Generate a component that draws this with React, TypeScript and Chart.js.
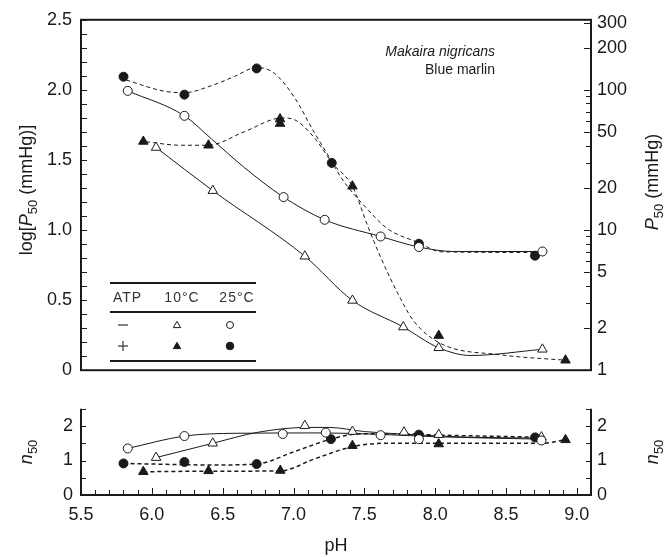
import React, { useEffect, useRef } from 'react';
import { Chart, registerables } from 'chart.js';
Chart.register(...registerables);

const FONT = '"Liberation Sans", Arial, Helvetica, sans-serif';
const INK = '#1a1a1a';

// ---------- axes / tick labels ----------
const PH_MIN = 5.5;
const PH_MAX = 9.1;
const pHLabels = ['5.5', '6.0', '6.5', '7.0', '7.5', '8.0', '8.5', '9.0'];
const logP50Labels = ['0', '0.5', '1.0', '1.5', '2.0', '2.5'];
const p50Major = [1, 2, 5, 10, 20, 50, 100, 200, 300];
const p50Minor = [3, 4, 6, 7, 8, 9, 30, 40, 60, 70, 80, 90];
const n50Labels = ['0', '1', '2'];

// ---------- top panel: log P50 (points) ----------
const pH_25_noATP = [5.83, 6.23, 6.93, 7.22, 7.615, 7.885, 8.757];
const logP50_25_noATP = [1.993, 1.815, 1.235, 1.073, 0.954, 0.879, 0.847];
const pH_25_ATP = [5.8, 6.23, 6.74, 7.27, 7.885, 8.705];
const logP50_25_ATP = [2.094, 1.966, 2.153, 1.479, 0.902, 0.817];
const pH_10_noATP = [6.03, 6.43, 7.08, 7.416, 7.775, 8.025, 8.757];
const logP50_10_noATP = [1.589, 1.281, 0.813, 0.498, 0.308, 0.16, 0.149];
const pH_10_ATP = [5.94, 6.4, 6.905, 6.905, 7.416, 8.025, 8.92];
const logP50_10_ATP = [1.632, 1.605, 1.792, 1.76, 1.313, 0.247, 0.071];

// ---------- top panel: fitted curves ----------
const fitPH_25_noATP = [5.83, 6.23, 6.42, 6.654, 6.93, 7.22, 7.615, 7.885, 8.13, 8.757];
const fitLog_25_noATP = [1.993, 1.815, 1.651, 1.445, 1.235, 1.073, 0.954, 0.879, 0.847, 0.847];
const fitPH_25_ATP = [5.82, 6.09, 6.23, 6.42, 6.584, 6.74, 6.865, 7.006, 7.146, 7.27, 7.334, 7.522, 7.662, 7.885, 8.04, 8.72];
const fitLog_25_ATP = [2.07, 1.99, 1.98, 2.03, 2.096, 2.16, 2.118, 1.947, 1.697, 1.49, 1.377, 1.149, 1.011, 0.909, 0.845, 0.84];
const fitPH_10_noATP = [6.03, 6.43, 7.08, 7.416, 7.775, 8.025, 8.25, 8.757];
const fitLog_10_noATP = [1.589, 1.281, 0.813, 0.498, 0.308, 0.16, 0.105, 0.149];
const fitPH_10_ATP = [5.96, 6.2, 6.4, 6.65, 6.92, 7.0, 7.146, 7.28, 7.416, 7.522, 7.615, 7.756, 7.85, 8.04, 8.46, 8.92];
const fitLog_10_ATP = [1.63, 1.605, 1.605, 1.7, 1.8, 1.79, 1.66, 1.47, 1.313, 1.034, 0.806, 0.509, 0.349, 0.19, 0.11, 0.071];

// ---------- bottom panel: n50 (points) ----------
const nPH_25_noATP = [5.83, 6.23, 6.924, 7.228, 7.615, 7.885, 8.75];
const n50_25_noATP = [1.35, 1.71, 1.77, 1.81, 1.735, 1.62, 1.58];
const nPH_25_ATP = [5.8, 6.23, 6.74, 7.264, 7.885, 8.705];
const n50_25_ATP = [0.915, 0.957, 0.897, 1.62, 1.75, 1.67];
const nPH_10_noATP = [6.03, 6.43, 7.08, 7.416, 7.78, 8.025, 8.75];
const n50_10_noATP = [1.085, 1.5, 2.01, 1.84, 1.82, 1.75, 1.68];
const nPH_10_ATP = [5.94, 6.4, 6.907, 7.416, 8.025, 8.92];
const n50_10_ATP = [0.675, 0.7, 0.71, 1.43, 1.48, 1.6];

// ---------- bottom panel: fitted curves ----------
const nFitPH_25_noATP = [5.83, 6.23, 6.6, 7.2, 7.6, 8.0, 8.75];
const nFit_25_noATP = [1.35, 1.71, 1.79, 1.8, 1.76, 1.69, 1.62];
const nFitPH_10_noATP = [6.03, 6.43, 6.75, 7.1, 7.25, 7.5, 7.8, 8.2, 8.75];
const nFit_10_noATP = [1.085, 1.5, 1.82, 1.96, 1.96, 1.84, 1.76, 1.68, 1.65];
const nFitPH_25_ATP = [5.8, 6.1, 6.4, 6.74, 7.0, 7.264, 7.45, 7.7, 8.0, 8.7];
const nFit_25_ATP = [0.915, 0.89, 0.87, 0.897, 1.25, 1.62, 1.77, 1.78, 1.74, 1.68];
const nFitPH_10_ATP = [5.94, 6.4, 6.907, 7.15, 7.416, 7.65, 8.0, 8.75, 8.92];
const nFit_10_ATP = [0.675, 0.69, 0.7, 1.05, 1.4, 1.5, 1.5, 1.5, 1.6];

// ---------- helpers ----------
const pts = (xs: number[], ys: number[]) => xs.map((x, i) => ({ x, y: ys[i] }));

function pointDs(xs: number[], ys: number[], style: string, filled: boolean) {
  return {
    data: pts(xs, ys),
    showLine: false,
    pointStyle: style,
    pointRadius: style === 'circle' ? 4.5 : 5.5,
    pointBackgroundColor: filled ? INK : '#ffffff',
    pointBorderColor: INK,
    pointBorderWidth: 1,
    order: 0,
  };
}

function curveDs(xs: number[], ys: number[], dashed: boolean, width = 1) {
  return {
    data: pts(xs, ys),
    showLine: true,
    pointRadius: 0,
    borderColor: INK,
    borderWidth: width,
    borderDash: dashed ? [4, 3] : [],
    cubicInterpolationMode: 'monotone',
    fill: false,
    order: 1,
  };
}

type Part = { t: string; it?: boolean; sub?: boolean };
function drawRich(ctx: CanvasRenderingContext2D, parts: Part[], cx: number, cy: number, size: number, rot: number) {
  ctx.save();
  ctx.translate(cx, cy);
  ctx.rotate(rot);
  const fontOf = (p: Part) => `${p.it ? 'italic ' : ''}${p.sub ? Math.round(size * 0.72) : size}px ${FONT}`;
  let total = 0;
  const widths = parts.map((p) => {
    ctx.font = fontOf(p);
    const w = ctx.measureText(p.t).width;
    total += w;
    return w;
  });
  let x = -total / 2;
  ctx.fillStyle = INK;
  ctx.textAlign = 'left';
  ctx.textBaseline = 'alphabetic';
  const base = size * 0.36;
  parts.forEach((p, i) => {
    ctx.font = fontOf(p);
    ctx.fillText(p.t, x, p.sub ? base + size * 0.25 : base);
    x += widths[i];
  });
  ctx.restore();
}

function line(ctx: CanvasRenderingContext2D, x1: number, y1: number, x2: number, y2: number) {
  ctx.beginPath();
  ctx.moveTo(x1, y1);
  ctx.lineTo(x2, y2);
  ctx.stroke();
}

function tri(ctx: CanvasRenderingContext2D, x: number, y: number, r: number, filled: boolean) {
  ctx.beginPath();
  for (let k = 0; k < 3; k++) {
    const a = (k * 2 * Math.PI) / 3;
    const px = x + Math.sin(a) * r;
    const py = y - Math.cos(a) * r;
    if (k === 0) ctx.moveTo(px, py);
    else ctx.lineTo(px, py);
  }
  ctx.closePath();
  ctx.fillStyle = filled ? INK : '#fff';
  ctx.fill();
  ctx.lineWidth = 1;
  ctx.strokeStyle = INK;
  ctx.stroke();
}
function circ(ctx: CanvasRenderingContext2D, x: number, y: number, r: number, filled: boolean) {
  ctx.beginPath();
  ctx.arc(x, y, r, 0, Math.PI * 2);
  ctx.fillStyle = filled ? INK : '#fff';
  ctx.fill();
  ctx.lineWidth = 1;
  ctx.strokeStyle = INK;
  ctx.stroke();
}

const topDecor = {
  id: 'topDecor',
  afterDraw(chart: any) {
    const ctx: CanvasRenderingContext2D = chart.ctx;
    const { left, right, top, bottom } = chart.chartArea;
    const y = chart.scales.y;
    const yR = chart.scales.yR;
    ctx.save();
    ctx.strokeStyle = INK;
    ctx.lineWidth = 1;
    // left ticks every 0.1
    for (let i = 0; i <= 25; i++) {
      const py = Math.round(y.getPixelForValue(i / 10)) + 0.5;
      line(ctx, left, py, left + 6, py);
    }
    // right ticks (log)
    p50Major.forEach((v) => {
      const py = Math.round(yR.getPixelForValue(v)) + 0.5;
      line(ctx, right - 7, py, right, py);
    });
    p50Minor.forEach((v) => {
      const py = Math.round(yR.getPixelForValue(v)) + 0.5;
      line(ctx, right - 5, py, right, py);
    });
    // frame
    ctx.lineWidth = 2;
    ctx.strokeRect(left, top, right - left, bottom - top);

    // axis titles
    drawRich(ctx, [{ t: 'log[' }, { t: 'P', it: true }, { t: '50', sub: true }, { t: ' (mmHg)]' }], 26, 190, 18, -Math.PI / 2);
    drawRich(ctx, [{ t: 'P', it: true }, { t: '50', sub: true }, { t: ' (mmHg)' }], 652, 182, 18, -Math.PI / 2);

    // species annotation
    ctx.fillStyle = INK;
    ctx.textAlign = 'right';
    ctx.textBaseline = 'middle';
    ctx.font = `italic 14px ${FONT}`;
    ctx.fillText('Makaira nigricans', 495, 52);
    ctx.font = `14px ${FONT}`;
    ctx.fillText('Blue marlin', 495, 70);

    // legend table
    ctx.lineWidth = 2;
    line(ctx, 110, 283, 256, 283);
    line(ctx, 110, 312, 256, 312);
    line(ctx, 110, 361, 256, 361);
    ctx.fillStyle = '#333';
    ctx.font = `14px ${FONT}`;
    (ctx as any).letterSpacing = '1px';
    ctx.textBaseline = 'middle';
    ctx.textAlign = 'left';
    ctx.fillText('ATP', 113, 298);
    ctx.textAlign = 'center';
    ctx.fillText('10°C', 182, 298);
    ctx.fillText('25°C', 237, 298);
    (ctx as any).letterSpacing = '0px';
    ctx.lineWidth = 1.2;
    ctx.strokeStyle = '#333';
    line(ctx, 118, 325, 128, 325);
    line(ctx, 118, 346, 128, 346);
    line(ctx, 123, 341, 123, 351);
    tri(ctx, 177, 325.5, 4.2, false);
    circ(ctx, 230, 325, 3.5, false);
    tri(ctx, 177, 346.5, 4.2, true);
    circ(ctx, 230, 346, 3.8, true);
    ctx.restore();
  },
};

const botDecor = {
  id: 'botDecor',
  afterDraw(chart: any) {
    const ctx: CanvasRenderingContext2D = chart.ctx;
    const { left, right, top, bottom } = chart.chartArea;
    const x = chart.scales.x;
    const y = chart.scales.y;
    ctx.save();
    ctx.strokeStyle = INK;
    ctx.lineWidth = 1;
    for (let i = 0; i <= 36; i++) {
      const v = PH_MIN + i / 10;
      const px = Math.round(x.getPixelForValue(v)) + 0.5;
      const major = i % 5 === 0;
      line(ctx, px, bottom, px, bottom - (major ? 7 : 5));
    }
    for (let i = 0; i <= 5; i++) {
      const py = Math.round(y.getPixelForValue(i / 2)) + 0.5;
      line(ctx, left, py, left + 5, py);
      line(ctx, right - 5, py, right, py);
    }
    ctx.lineWidth = 2;
    ctx.beginPath();
    ctx.moveTo(left, top);
    ctx.lineTo(left, bottom);
    ctx.lineTo(right, bottom);
    ctx.lineTo(right, top);
    ctx.stroke();

    drawRich(ctx, [{ t: 'n', it: true }, { t: '50', sub: true }], 26, (top + bottom) / 2, 18, -Math.PI / 2);
    drawRich(ctx, [{ t: 'n', it: true }, { t: '50', sub: true }], 652, (top + bottom) / 2, 18, -Math.PI / 2);
    drawRich(ctx, [{ t: 'pH' }], (left + right) / 2, 155, 18, 0);
    ctx.restore();
  },
};

const tickFont = { family: FONT, size: 18 };

function topConfig(): any {
  return {
    type: 'line',
    data: {
      datasets: [
        pointDs(pH_25_noATP, logP50_25_noATP, 'circle', false),
        pointDs(pH_25_ATP, logP50_25_ATP, 'circle', true),
        pointDs(pH_10_noATP, logP50_10_noATP, 'triangle', false),
        pointDs(pH_10_ATP, logP50_10_ATP, 'triangle', true),
        curveDs(fitPH_25_noATP, fitLog_25_noATP, false),
        curveDs(fitPH_25_ATP, fitLog_25_ATP, true),
        curveDs(fitPH_10_noATP, fitLog_10_noATP, false),
        curveDs(fitPH_10_ATP, fitLog_10_ATP, true),
      ],
    },
    options: {
      responsive: false,
      animation: false,
      devicePixelRatio: 1,
      layout: { padding: { top: 16, bottom: 9, left: 0, right: 0 } },
      plugins: { legend: { display: false }, tooltip: { enabled: false } },
      scales: {
        x: { type: 'linear', min: PH_MIN, max: PH_MAX, display: false },
        y: {
          type: 'linear',
          position: 'left',
          min: 0,
          max: 2.5,
          afterFit: (s: any) => { s.width = 81; },
          afterBuildTicks: (s: any) => { s.ticks = logP50Labels.map((l) => ({ value: parseFloat(l) })); },
          grid: { display: false, drawTicks: false },
          border: { display: false },
          ticks: { font: tickFont, color: INK, padding: 9, autoSkip: false, callback: (_v: any, i: number) => logP50Labels[i] },
        },
        yR: {
          type: 'logarithmic',
          position: 'right',
          min: 1,
          max: Math.pow(10, 2.5),
          afterFit: (s: any) => { s.width = 81; },
          afterBuildTicks: (s: any) => { s.ticks = p50Major.map((v) => ({ value: v })); },
          grid: { display: false, drawTicks: false },
          border: { display: false },
          ticks: { font: tickFont, color: INK, padding: 6, autoSkip: false, callback: (_v: any, i: number) => String(p50Major[i]) },
        },
      },
    },
    plugins: [topDecor],
  };
}

function botConfig(): any {
  return {
    type: 'line',
    data: {
      datasets: [
        pointDs(nPH_25_noATP, n50_25_noATP, 'circle', false),
        pointDs(nPH_25_ATP, n50_25_ATP, 'circle', true),
        pointDs(nPH_10_noATP, n50_10_noATP, 'triangle', false),
        pointDs(nPH_10_ATP, n50_10_ATP, 'triangle', true),
        curveDs(nFitPH_25_noATP, nFit_25_noATP, false),
        curveDs(nFitPH_10_noATP, nFit_10_noATP, false),
        curveDs(nFitPH_25_ATP, nFit_25_ATP, true, 1.5),
        curveDs(nFitPH_10_ATP, nFit_10_ATP, true, 1.5),
      ],
    },
    options: {
      responsive: false,
      animation: false,
      devicePixelRatio: 1,
      layout: { padding: { top: 8, bottom: 0, left: 0, right: 0 } },
      plugins: { legend: { display: false }, tooltip: { enabled: false } },
      scales: {
        x: {
          type: 'linear',
          min: PH_MIN,
          max: PH_MAX,
          afterFit: (s: any) => { s.height = 62; },
          afterBuildTicks: (s: any) => { s.ticks = pHLabels.map((l) => ({ value: parseFloat(l) })); },
          grid: { display: false, drawTicks: false },
          border: { display: false },
          ticks: { font: tickFont, color: INK, padding: 9, autoSkip: false, maxRotation: 0, callback: (_v: any, i: number) => pHLabels[i] },
        },
        y: {
          type: 'linear',
          position: 'left',
          min: 0,
          max: 2.5,
          afterFit: (s: any) => { s.width = 81; },
          afterBuildTicks: (s: any) => { s.ticks = n50Labels.map((l) => ({ value: parseFloat(l) })); },
          grid: { display: false, drawTicks: false },
          border: { display: false },
          ticks: { font: tickFont, color: INK, padding: 8, autoSkip: false, callback: (_v: any, i: number) => n50Labels[i] },
        },
        yR: {
          type: 'linear',
          position: 'right',
          min: 0,
          max: 2.5,
          afterFit: (s: any) => { s.width = 81; },
          afterBuildTicks: (s: any) => { s.ticks = n50Labels.map((l) => ({ value: parseFloat(l) })); },
          grid: { display: false, drawTicks: false },
          border: { display: false },
          ticks: { font: tickFont, color: INK, padding: 6, autoSkip: false, callback: (_v: any, i: number) => n50Labels[i] },
        },
      },
    },
    plugins: [botDecor],
  };
}

export default function App() {
  const topRef = useRef<HTMLCanvasElement>(null);
  const botRef = useRef<HTMLCanvasElement>(null);
  useEffect(() => {
    const c1 = new Chart(topRef.current as HTMLCanvasElement, topConfig());
    const c2 = new Chart(botRef.current as HTMLCanvasElement, botConfig());
    return () => {
      c1.destroy();
      c2.destroy();
    };
  }, []);
  return (
    <div style={{ position: 'absolute', left: 0, top: 0, width: 672, height: 557, background: '#fff' }}>
      <canvas ref={topRef} width={672} height={390} style={{ position: 'absolute', left: 0, top: 0 }} />
      <canvas ref={botRef} width={672} height={167} style={{ position: 'absolute', left: 0, top: 390 }} />
    </div>
  );
}
